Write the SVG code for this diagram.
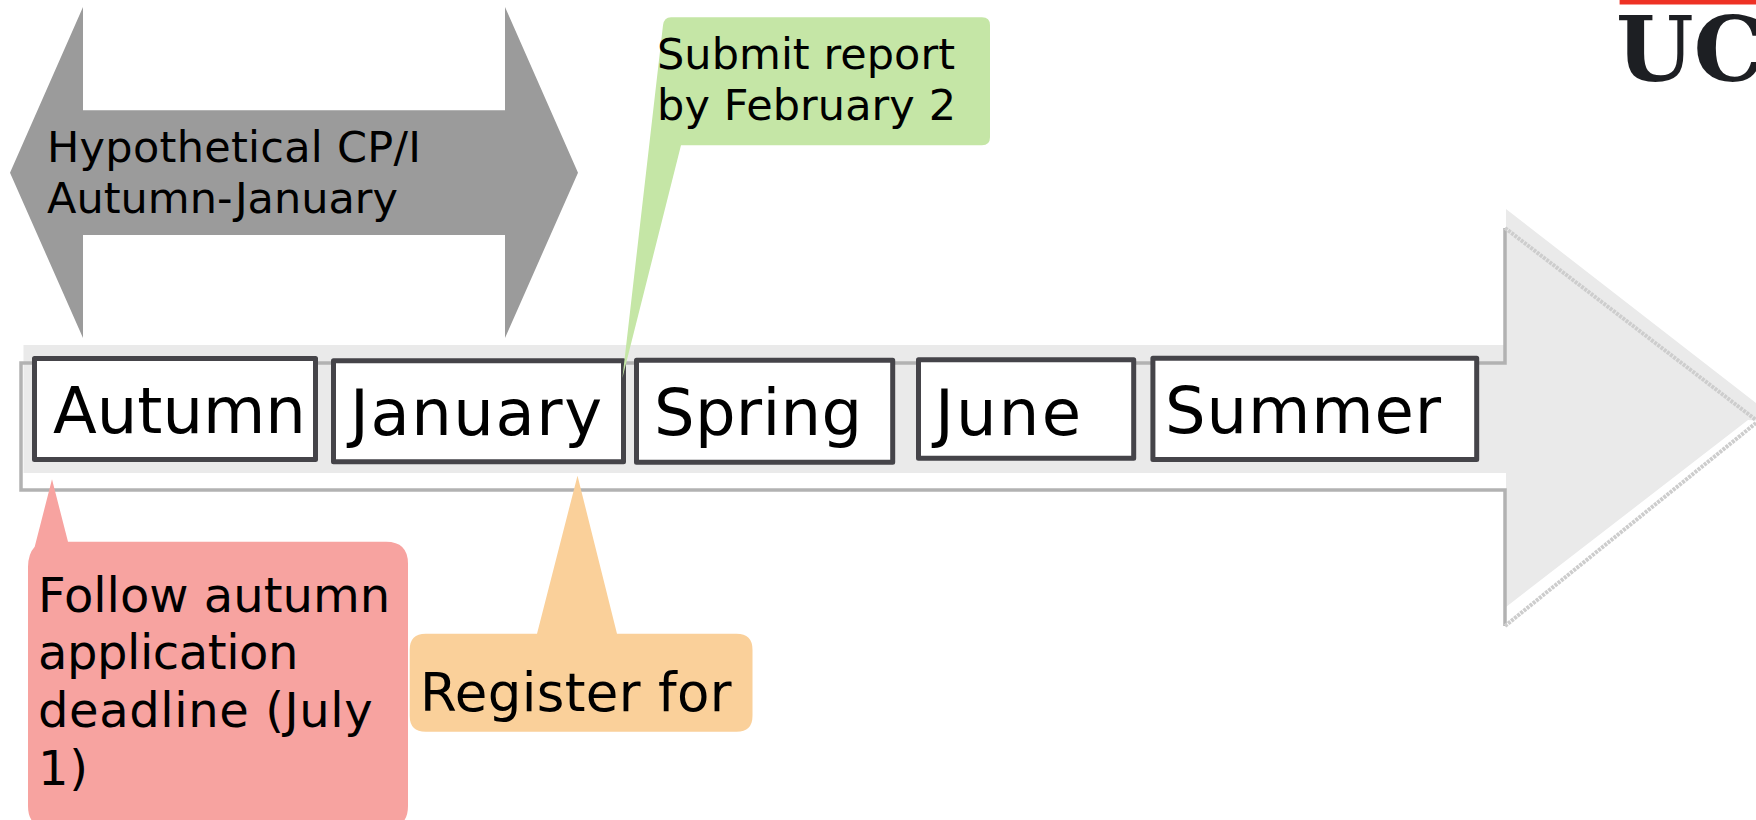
<svg xmlns="http://www.w3.org/2000/svg" width="1756" height="820" viewBox="0 0 1756 820">
<style>
text{font-family:"DejaVu Sans",Verdana,sans-serif;fill:#000}
.box{fill:#fff;stroke:#454449;stroke-width:5;stroke-linejoin:round}
.big{font-size:64px}
.mid{font-size:43px}
.lg{font-size:48px}
.edge{fill:none;stroke:#b2b2b2;stroke-width:3.5}
.diag{fill:none;stroke:#cdcdcd;stroke-width:4;stroke-dasharray:3 1}
</style>
<rect width="1756" height="820" fill="#fff"/>
<g id="timeline-arrow">
<path d="M23.5 345H1506V209L1780 421.6L1748 420L1506 607V473H23.5Z" fill="#eaeaea"/>
<path class="edge" d="M1505 228V363H21V490H1505V626"/>
<path class="diag" d="M1505 228L1756 420M1505 626L1756 423"/>
</g>
<g id="span-arrow">
<path d="M10 172.7L83 7V110.3H505V7L578 172.7L505 338V235H83V338Z" fill="#9b9b9b"/>
<text class="mid" x="47" y="162" textLength="374">Hypothetical CP/I</text>
<text class="mid" x="47" y="213" textLength="351">Autumn-January</text>
</g>
<g id="autumn"><rect class="box" x="34.5" y="358.5" width="281" height="101"/><text class="big" x="53" y="433">Autumn</text></g>
<g id="january"><rect class="box" x="333.5" y="360.8" width="290" height="101"/><text class="big" x="350" y="435" textLength="252">January</text></g>
<g id="spring"><rect class="box" x="636.5" y="360.2" width="256.2" height="102"/><text class="big" x="654" y="435" textLength="208">Spring</text></g>
<g id="june"><rect class="box" x="918.5" y="359.8" width="215.2" height="98.5"/><text class="big" x="935" y="435" textLength="146">June</text></g>
<g id="summer"><rect class="box" x="1152.9" y="358.3" width="323.8" height="101.2"/><text class="big" x="1165" y="433" textLength="276">Summer</text></g>
<g id="submit-callout">
<path d="M671 17.3H982Q990 17.3 990 25.3V137.3Q990 145.3 982 145.3H681L622.4 378L663 25.3Q664 17.3 671 17.3Z" fill="#c5e6a6"/>
<text class="mid" x="657" y="69.3" textLength="298">Submit report</text>
<text class="mid" x="657" y="120" textLength="299">by February 2</text>
</g>
<g id="follow-callout">
<path d="M52 479.3L68 541.7H386Q408 541.7 408 563.7V806Q408 828 386 828H50Q28 828 28 806V567Q28 554 34.7 546.7Z" fill="#f7a3a0"/>
<text class="lg" x="38" y="611.7">Follow autumn</text>
<text class="lg" x="38" y="669" textLength="260.4">application</text>
<text class="lg" x="38" y="726.7" textLength="334.7">deadline (July</text>
<text class="lg" x="38" y="785" textLength="50">1)</text>
</g>
<g id="register-callout">
<path d="M577.5 475.7L617 633.7H736.5Q752.5 633.7 752.5 649.7V715.7Q752.5 731.7 736.5 731.7H425.7Q409.7 731.7 409.7 715.7V649.7Q409.7 633.7 425.7 633.7H537Z" fill="#fad09a"/>
<text x="420" y="710.7" font-size="53" textLength="311.5">Register for</text>
</g>
<g id="logo">
<rect x="1619.6" y="0" width="137" height="4.5" fill="#ee3124"/>
<text x="1616" y="81" font-size="89" font-weight="700" style="font-family:'DejaVu Serif',serif;fill:#1d1f23">UC</text>
</g>
</svg>
